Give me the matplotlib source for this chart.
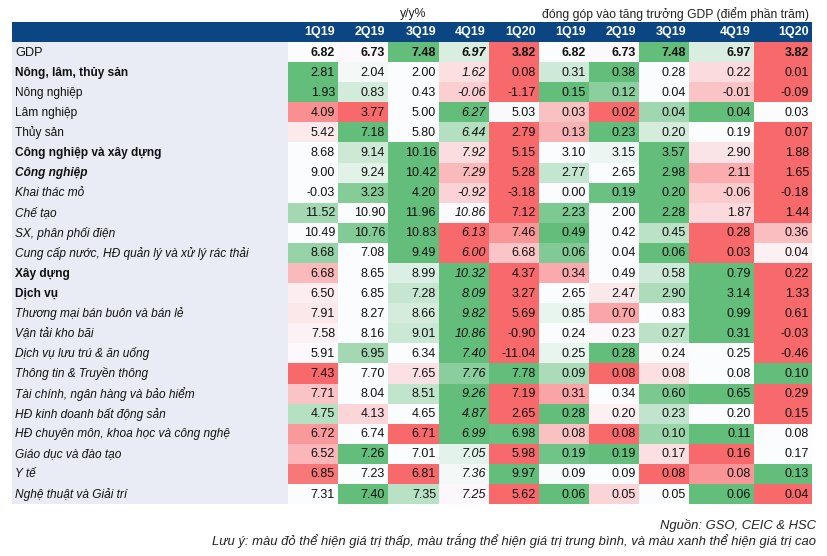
import numpy as np
import matplotlib
matplotlib.use("Agg")
import matplotlib.pyplot as plt
from matplotlib.colors import LinearSegmentedColormap
from matplotlib.patches import Rectangle

plt.rcParams['font.family'] = ['Liberation Sans', 'DejaVu Sans']

# ---------------- data ----------------
row_labels = [
    "GDP", "Nông, lâm, thủy sản", "Nông nghiệp", "Lâm nghiệp", "Thủy sản",
    "Công nghiệp và xây dựng", "Công nghiệp", "Khai thác mỏ", "Chế tạo",
    "SX, phân phối điện", "Cung cấp nước, HĐ quản lý và xử lý rác thải",
    "Xây dựng", "Dịch vụ", "Thương mại bán buôn và bán lẻ", "Vận tải kho bãi",
    "Dịch vụ lưu trú & ăn uống", "Thông tin & Truyền thông",
    "Tài chính, ngân hàng và bảo hiểm", "HĐ kinh doanh bất động sản",
    "HĐ chuyên môn, khoa học và công nghệ", "Giáo dục và đào tạo", "Y tế",
    "Nghệ thuật và Giải trí",
]
quarters = ["1Q19", "2Q19", "3Q19", "4Q19", "1Q20"]

yoy = [
    [6.82, 6.73, 7.48, 6.97, 3.82],
    [2.81, 2.04, 2.00, 1.62, 0.08],
    [1.93, 0.83, 0.43, -0.06, -1.17],
    [4.09, 3.77, 5.00, 6.27, 5.03],
    [5.42, 7.18, 5.80, 6.44, 2.79],
    [8.68, 9.14, 10.16, 7.92, 5.15],
    [9.00, 9.24, 10.42, 7.29, 5.28],
    [-0.03, 3.23, 4.20, -0.92, -3.18],
    [11.52, 10.90, 11.96, 10.86, 7.12],
    [10.49, 10.76, 10.83, 6.13, 7.46],
    [8.68, 7.08, 9.49, 6.00, 6.68],
    [6.68, 8.65, 8.99, 10.32, 4.37],
    [6.50, 6.85, 7.28, 8.09, 3.27],
    [7.91, 8.27, 8.66, 9.82, 5.69],
    [7.58, 8.16, 9.01, 10.86, -0.90],
    [5.91, 6.95, 6.34, 7.40, -11.04],
    [7.43, 7.70, 7.65, 7.76, 7.78],
    [7.71, 8.04, 8.51, 9.26, 7.19],
    [4.75, 4.13, 4.65, 4.87, 2.65],
    [6.72, 6.74, 6.71, 6.99, 6.98],
    [6.52, 7.26, 7.01, 7.05, 5.98],
    [6.85, 7.23, 6.81, 7.36, 9.97],
    [7.31, 7.40, 7.35, 7.25, 5.62],
]

contrib = [
    [6.82, 6.73, 7.48, 6.97, 3.82],
    [0.31, 0.38, 0.28, 0.22, 0.01],
    [0.15, 0.12, 0.04, -0.01, -0.09],
    [0.026, 0.020, 0.036, 0.040, 0.030],
    [0.13, 0.23, 0.20, 0.19, 0.07],
    [3.10, 3.15, 3.57, 2.90, 1.88],
    [2.77, 2.65, 2.98, 2.11, 1.65],
    [0.00, 0.19, 0.20, -0.06, -0.18],
    [2.23, 2.00, 2.28, 1.87, 1.44],
    [0.49, 0.42, 0.45, 0.28, 0.36],
    [0.058, 0.042, 0.062, 0.030, 0.041],
    [0.34, 0.49, 0.58, 0.79, 0.22],
    [2.65, 2.47, 2.90, 3.14, 1.33],
    [0.85, 0.70, 0.83, 0.99, 0.61],
    [0.24, 0.23, 0.27, 0.31, -0.03],
    [0.252, 0.28, 0.240, 0.248, -0.46],
    [0.092, 0.078, 0.082, 0.083, 0.10],
    [0.31, 0.34, 0.60, 0.65, 0.29],
    [0.28, 0.196, 0.23, 0.200, 0.15],
    [0.081, 0.078, 0.100, 0.110, 0.083],
    [0.188, 0.190, 0.168, 0.160, 0.170],
    [0.091, 0.090, 0.080, 0.083, 0.130],
    [0.062, 0.048, 0.051, 0.062, 0.040],
]

bold_labels = {"Nông, lâm, thủy sản", "Công nghiệp và xây dựng", "Công nghiệp",
               "Xây dựng", "Dịch vụ"}
plain_labels = {"GDP", "Nông, lâm, thủy sản", "Nông nghiệp", "Lâm nghiệp",
                "Thủy sản", "Công nghiệp và xây dựng", "Xây dựng", "Dịch vụ"}

# ---------------- colour scale (red - white - green, per row per block) ----
def scale_block(block):
    block = np.asarray(block, dtype=float)
    out = np.zeros_like(block)
    for i, row in enumerate(block):
        lo, med, hi = row.min(), np.median(row), row.max()
        for j, v in enumerate(row):
            if v >= med:
                out[i, j] = 0.5 + 0.5 * ((v - med) / (hi - med) if hi > med else 0)
            else:
                out[i, j] = 0.5 - 0.5 * ((med - v) / (med - lo) if med > lo else 0)
    return out

T = np.hstack([scale_block(yoy), scale_block(contrib)])
vals = np.hstack([np.asarray(yoy), np.asarray(contrib)])
cmap = LinearSegmentedColormap.from_list("rwg", ["#F8696B", "#FCFCFF", "#63BE7B"])

# ---------------- layout ----------------
W, H = 828, 556
fig = plt.figure(figsize=(W / 100, H / 100), dpi=100)
ax = fig.add_axes([0, 0, 1, 1])
ax.set_xlim(0, W)
ax.set_ylim(H, 0)
ax.axis("off")

left, label_right, right = 12, 288, 812
x_edges = np.array([288, 338, 388, 439, 489, 539, 589, 639, 689, 754, 812])
head_top, head_bot = 22, 42
n = len(row_labels)
row_h = 20.09
y_edges = head_bot + row_h * np.arange(n + 1)

ax.add_patch(Rectangle((left, head_top), right - left, head_bot - head_top,
                       facecolor="#0B4682", edgecolor="none"))
ax.add_patch(Rectangle((left, head_bot), label_right - left, y_edges[-1] - head_bot,
                       facecolor="#E9ECF5", edgecolor="none"))

ax.pcolormesh(x_edges, y_edges, T, cmap=cmap, vmin=0, vmax=1, shading="flat")

fs = 9
cols = quarters + quarters
for j, q in enumerate(cols):
    ax.text(x_edges[j + 1] - 3, (head_top + head_bot) / 2 + 0.5, q, ha="right",
            va="center", color="white", fontsize=fs, fontweight="bold")

for i, lab in enumerate(row_labels):
    yc = (y_edges[i] + y_edges[i + 1]) / 2 + 0.5
    weight = "bold" if lab in bold_labels else "normal"
    style = "normal" if lab in plain_labels else "italic"
    ax.text(15, yc, lab, ha="left", va="center", fontsize=8.6 if lab != "GDP" else 9.2,
            fontweight=weight, fontstyle=style, color="#111111")
    for j in range(vals.shape[1]):
        v = vals[i, j]
        ax.text(x_edges[j + 1] - 3, yc, f"{v:.2f}", ha="right", va="center",
                fontsize=fs, color="#111111",
                fontweight="bold" if i == 0 else "normal",
                fontstyle="italic" if j == 3 else "normal")

ax.text((x_edges[0] + x_edges[5]) / 2, 14, "y/y%", ha="center", va="center",
        fontsize=8.8, color="#222222")
ax.text((x_edges[5] + x_edges[10]) / 2, 14,
        "đóng góp vào tăng trưởng GDP (điểm phần trăm)", ha="center",
        va="center", fontsize=8.7, color="#222222")

ax.text(816, 525, "Nguồn: GSO, CEIC & HSC", ha="right", va="center",
        fontsize=9.4, fontstyle="italic", color="#222222")
ax.text(816, 541, "Lưu ý: màu đỏ thể hiện giá trị thấp, màu trắng thể hiện giá trị "
        "trung bình, và màu xanh thể hiện giá trị cao", ha="right", va="center",
        fontsize=9.4, fontstyle="italic", color="#222222")

fig.savefig("out.png", dpi=100)
